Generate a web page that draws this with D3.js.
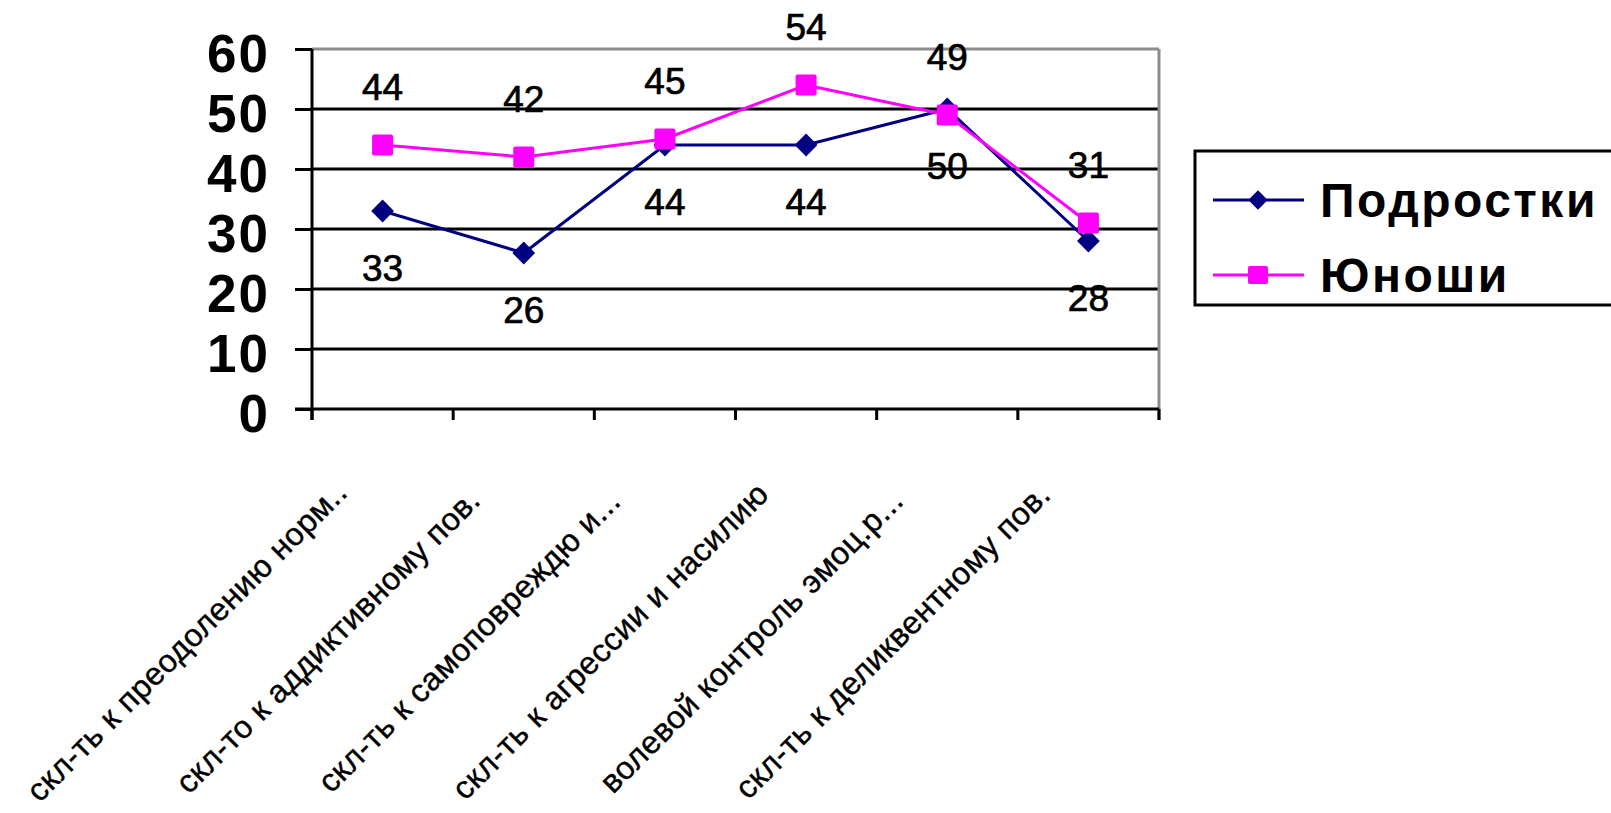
<!DOCTYPE html>
<html><head><meta charset="utf-8">
<script src="https://cdn.jsdelivr.net/npm/d3@7"></script>
<style>
html,body{margin:0;padding:0;background:#fff;overflow:hidden;}
svg{display:block;font-family:"Liberation Sans",Arial,sans-serif;}
</style></head>
<body>
<svg id="chart" width="1611" height="813"></svg>
<script>
const categories = [
  "скл-ть к преодолению норм..",
  "скл-то к аддиктивному пов.",
  "скл-ть к самоповреждю и...",
  "скл-ть к агрессии и насилию",
  "волевой контроль эмоц.р...",
  "скл-ть к деликвентному пов."
];
const teens = [33, 26, 44, 44, 50, 28];
const youths = [44, 42, 45, 54, 49, 31];
const yTicks = [0, 10, 20, 30, 40, 50, 60];
const seriesNames = ["Подростки", "Юноши"];

const svg = d3.select("#chart");
const pLeft = 312, pRight = 1159, pTop = 49, pBottom = 409;

const x = d3.scaleBand().domain(categories).range([pLeft, pRight]).padding(0);
const cx = c => x(c) + x.bandwidth() / 2;
const y = d3.scaleLinear().domain([0, 60]).range([pBottom, pTop]);

// gridlines
svg.append("g").selectAll("line").data(yTicks.filter(v => v > 0)).join("line")
  .attr("x1", pLeft).attr("x2", pRight)
  .attr("y1", d => y(d)).attr("y2", d => y(d))
  .attr("stroke", d => d === 60 ? "#8c8c8c" : "#000")
  .attr("stroke-width", 3);

// right border
svg.append("line").attr("x1", pRight).attr("x2", pRight).attr("y1", y(60)).attr("y2", pBottom + 11)
  .attr("stroke", "#8c8c8c").attr("stroke-width", 3);

// y axis
const yAxis = svg.append("g").attr("transform", `translate(${pLeft},0)`)
  .call(d3.axisLeft(y).tickValues(yTicks).tickSize(17).tickPadding(25).tickSizeOuter(0));
yAxis.select(".domain").attr("stroke", "#000").attr("stroke-width", 3).attr("d", `M0,${pTop}V${pBottom + 11}`);
yAxis.selectAll(".tick line").attr("stroke", "#000").attr("stroke-width", 3);
yAxis.selectAll(".tick text").attr("fill", "#000").attr("font-size", 53).attr("font-weight", "bold")
  .attr("letter-spacing", 2).attr("dy", "0.42em").attr("font-family", "Liberation Sans, Arial, sans-serif");

// x axis
const xAxis = svg.append("g").attr("transform", `translate(0,${pBottom})`)
  .call(d3.axisBottom(x).tickSize(0).tickFormat(""));
xAxis.select(".domain").attr("d", `M${pLeft - 17},0H${pRight}`).attr("stroke", "#000").attr("stroke-width", 3);
const bounds = categories.map(c => x(c)).concat([x(categories[categories.length - 1]) + x.bandwidth()]);
svg.append("g").selectAll("line").data(bounds).join("line")
  .attr("x1", d => d).attr("x2", d => d).attr("y1", pBottom).attr("y2", pBottom + 11)
  .attr("stroke", "#000").attr("stroke-width", 3);

// x labels
svg.append("g").selectAll("text").data(categories).join("text")
  .attr("transform", d => `translate(${cx(d) - 196},${pBottom + 232}) rotate(-45)`)
  .attr("text-anchor", "middle").attr("dominant-baseline", "central")
  .attr("font-size", 32).attr("letter-spacing", 0.4).attr("fill", "#000")
  .attr("stroke", "#000").attr("stroke-width", 0.4)
  .text(d => d);

// lines
const line = d3.line().x((d, i) => cx(categories[i])).y(d => y(d));
svg.append("path").datum(teens).attr("d", line).attr("fill", "none")
  .attr("stroke", "#000080").attr("stroke-width", 3);
svg.append("g").selectAll("path").data(teens).join("path")
  .attr("d", d3.symbol(d3.symbolDiamond2, 330)())
  .attr("transform", (d, i) => `translate(${cx(categories[i])},${y(d)})`)
  .attr("fill", "#000080");

svg.append("path").datum(youths).attr("d", line).attr("fill", "none")
  .attr("stroke", "#ff00ff").attr("stroke-width", 3);
svg.append("g").selectAll("rect").data(youths).join("rect")
  .attr("x", (d, i) => cx(categories[i]) - 10.5).attr("y", d => y(d) - 10.5)
  .attr("width", 21).attr("height", 21).attr("rx", 2)
  .attr("fill", "#ff00ff");

// data labels
const labelStyle = sel => sel.attr("text-anchor", "middle").attr("dominant-baseline", "central")
  .attr("font-size", 37).attr("fill", "#000").attr("stroke", "#000").attr("stroke-width", 0.7);
svg.append("g").selectAll("text").data(teens).join("text")
  .attr("x", (d, i) => cx(categories[i])).attr("y", d => y(d) + 57)
  .call(labelStyle).text(d => d);
svg.append("g").selectAll("text").data(youths).join("text")
  .attr("x", (d, i) => cx(categories[i])).attr("y", d => y(d) - 58)
  .call(labelStyle).text(d => d);

// legend
const lg = svg.append("g");
lg.append("rect").attr("x", 1195).attr("y", 151).attr("width", 480).attr("height", 154)
  .attr("fill", "#fff").attr("stroke", "#000").attr("stroke-width", 3);
const colors = ["#000080", "#ff00ff"];
seriesNames.forEach((n, i) => {
  const ly = 200 + i * 75;
  lg.append("line").attr("x1", 1213).attr("x2", 1304).attr("y1", ly).attr("y2", ly)
    .attr("stroke", colors[i]).attr("stroke-width", 3);
  if (i === 0) {
    lg.append("path").attr("d", d3.symbol(d3.symbolDiamond2, 240)())
      .attr("transform", `translate(1258,${ly})`).attr("fill", colors[i]);
  } else {
    lg.append("rect").attr("x", 1248).attr("y", ly - 9).attr("width", 20).attr("height", 18)
      .attr("rx", 2).attr("fill", colors[i]);
  }
  lg.append("text").attr("x", 1320).attr("y", ly).attr("dominant-baseline", "central")
    .attr("font-size", 48).attr("font-weight", "bold").attr("letter-spacing", 2.5)
    .attr("fill", "#000").text(n);
});
</script>
</body></html>
